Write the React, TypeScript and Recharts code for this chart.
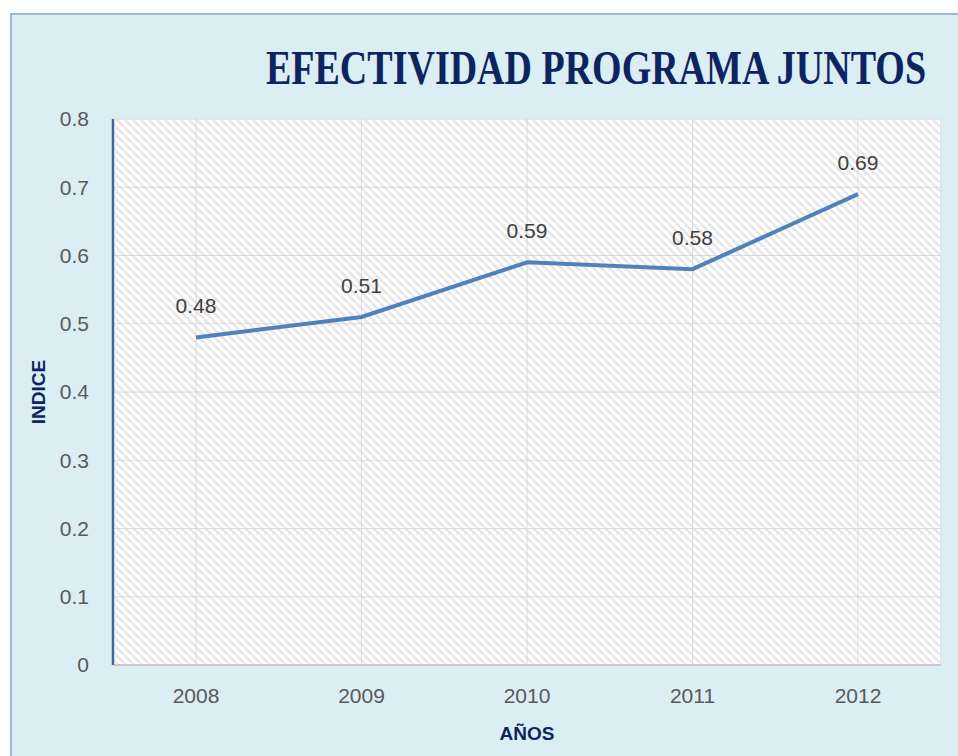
import React from 'react';
import { LineChart, Line, XAxis, YAxis, CartesianGrid, LabelList } from 'recharts';

const years = ['2008', '2009', '2010', '2011', '2012'];
const indice = [0.48, 0.51, 0.59, 0.58, 0.69];
const yTicks = [0, 0.1, 0.2, 0.3, 0.4, 0.5, 0.6, 0.7, 0.8];
const title = 'EFECTIVIDAD PROGRAMA JUNTOS';
const xTitle = 'AÑOS';
const yTitle = 'INDICE';

const data = years.map((y, i) => ({ year: y, value: indice[i] }));

const W = 946;
const H = 741;

export default function App() {
  return (
    <div
      style={{
        position: 'fixed',
        left: 10,
        top: 13,
        width: 948,
        height: 743,
        boxSizing: 'border-box',
        background: '#DBEEF4',
        borderLeft: '2px solid #9DB8DD',
        borderTop: '2px solid #9DB8DD',
        overflow: 'hidden',
      }}
    >
      <svg width="0" height="0" style={{ position: 'absolute' }}>
        <defs>
          <pattern id="hatch" patternUnits="userSpaceOnUse" width="8" height="8">
            <rect width="8" height="8" fill="#FFFFFF" />
            <path d="M-2,-2 L10,10 M-6,2 L2,10 M6,-6 L14,2" stroke="#E6E6E6" strokeWidth="2.6" />
          </pattern>
        </defs>
      </svg>
      <LineChart
        width={W}
        height={H}
        data={data}
        margin={{ top: 104, right: 17, bottom: 51, left: 41 }}
      >
        <CartesianGrid stroke="#DADADA" strokeWidth={1} fill="url(#hatch)" fillOpacity={1} />
        <XAxis
          dataKey="year"
          padding={{ left: 83, right: 83 }}
          axisLine={{ stroke: '#BFBFBF', strokeWidth: 1.5 }}
          tickLine={false}
          tickSize={0}
          tickMargin={23}
          height={40}
          tick={{ fill: '#595959', fontSize: 21, fontFamily: 'Liberation Sans' }}
          interval={0}
        />
        <XAxis
          xAxisId="top"
          dataKey="year"
          orientation="top"
          axisLine={{ stroke: '#41679E', strokeWidth: 2 }}
          tick={false}
          tickLine={false}
          height={0}
        />
        <YAxis
          domain={[0, 0.8]}
          ticks={yTicks}
          axisLine={{ stroke: '#41679E', strokeWidth: 2.5 }}
          tickLine={false}
          tickSize={0}
          tickMargin={24}
          width={60}
          tickFormatter={(v: number) => (v === 0 ? '0' : v.toFixed(1))}
          tick={{ fill: '#595959', fontSize: 21, fontFamily: 'Liberation Sans' }}
          interval={0}
        />
        <YAxis
          yAxisId="right"
          orientation="right"
          domain={[0, 0.8]}
          axisLine={{ stroke: '#41679E', strokeWidth: 2 }}
          tick={false}
          tickLine={false}
          width={0}
        />
        <Line
          type="linear"
          dataKey="value"
          stroke="#4F81BD"
          strokeWidth={4}
          dot={false}
          activeDot={false}
          isAnimationActive={false}
        >
          <LabelList
            dataKey="value"
            position="top"
            offset={24}
            fill="#404040"
            fontSize={21}
            fontFamily="Liberation Sans"
          />
        </Line>
        <text
          x={0}
          y={0}
          transform="translate(584, 69) scale(1, 1.3)"
          textAnchor="middle"
          fill="#0E2461"
          fontSize={38}
          fontWeight="bold"
          fontFamily="Liberation Serif"
        >
          {title}
        </text>
        <text
          x={0}
          y={0}
          transform={`translate(33, 377) rotate(-90)`}
          textAnchor="middle"
          fill="#0E2461"
          fontSize={19}
          fontWeight="bold"
          fontFamily="Liberation Sans"
        >
          {yTitle}
        </text>
        <text
          x={515}
          y={725}
          textAnchor="middle"
          fill="#0E2461"
          fontSize={19}
          fontWeight="bold"
          fontFamily="Liberation Sans"
        >
          {xTitle}
        </text>
      </LineChart>
    </div>
  );
}
